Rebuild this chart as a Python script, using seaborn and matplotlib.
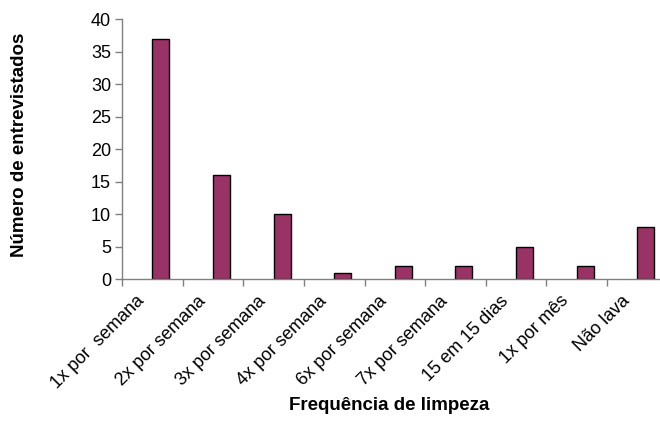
import matplotlib
matplotlib.use("Agg")
import matplotlib.pyplot as plt
import seaborn as sns
import numpy as np

categories = ["1x por  semana", "2x por semana", "3x por semana", "4x por semana",
              "6x por semana", "7x por semana", "15 em 15 dias", "1x por mês", "Não lava"]
counts = [37, 16, 10, 1, 2, 2, 5, 2, 8]
y_ticks = [0, 5, 10, 15, 20, 25, 30, 35, 40]

sns.set_style("white")
plt.rcParams['font.family'] = ['Liberation Sans', 'DejaVu Sans']
plt.rcParams['text.color'] = 'black'
plt.rcParams['axes.labelcolor'] = 'black'
plt.rcParams['xtick.labelcolor'] = 'black'
plt.rcParams['ytick.labelcolor'] = 'black'

fig = plt.figure(figsize=(6.6, 4.25), dpi=100)
ax = fig.add_axes([0.185, 0.3435, 0.8265, 0.6115])

sns.barplot(x=categories, y=counts, color="#993366", width=0.28,
            edgecolor="black", linewidth=1, saturation=1, ax=ax)

# category slots are offset from the bars (Excel style)
n = len(categories)
offset = 0.64
ax.set_xlim(-offset, n - offset)
ax.set_ylim(0, 40)
ax.set_yticks(y_ticks)
ax.set_xticks(np.arange(n) - offset + 0.33)
ax.set_xticklabels(categories, rotation=45, ha="right", va="center",
                   rotation_mode="anchor", fontsize=13)
ax.set_xticks(np.arange(n + 1) - offset, minor=True)
ax.tick_params(axis="x", which="major", length=0, pad=14)
ax.tick_params(axis="x", which="minor", length=5, width=1, color="#808080", direction="out", bottom=True)
ax.tick_params(axis="y", length=5, width=1, color="#808080", direction="out", left=True, labelsize=13, pad=3)

for s in ["top", "right"]:
    ax.spines[s].set_visible(False)
for s in ["left", "bottom"]:
    ax.spines[s].set_color("#808080")
    ax.spines[s].set_linewidth(1)

ax.set_ylabel("Número de entrevistados", fontsize=13.5, fontweight="bold")
ax.set_xlabel("Frequência de limpeza", fontsize=13.5, fontweight="bold")
ax.xaxis.set_label_coords(0.49, -0.455)
ax.yaxis.set_label_coords(-0.172, 0.515)

fig.savefig("out.png", dpi=100)
